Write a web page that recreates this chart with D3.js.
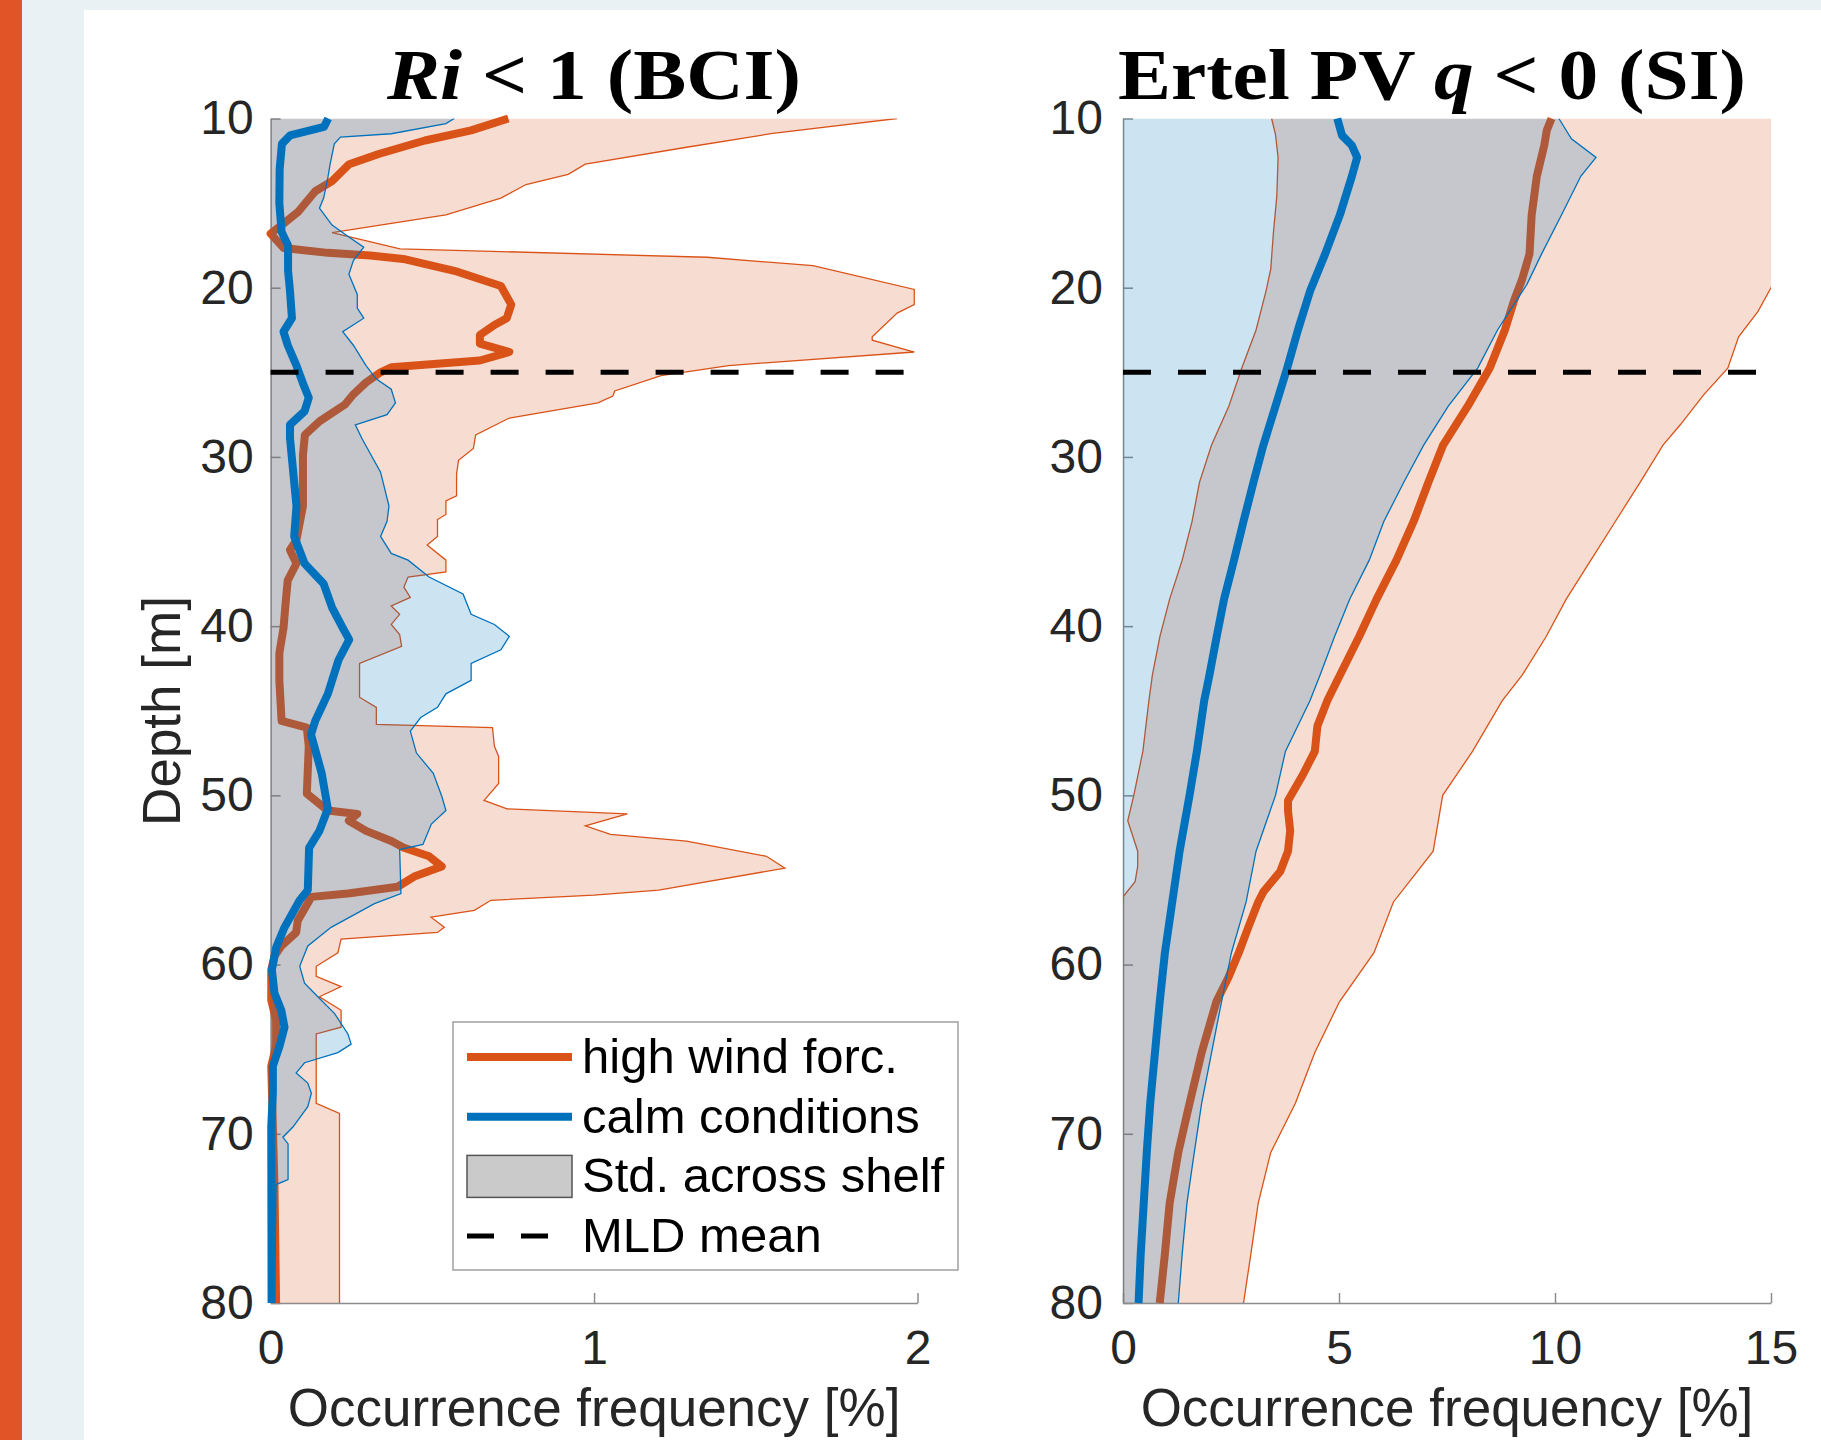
<!DOCTYPE html>
<html lang="en">
<head>
<meta charset="UTF-8">
<title>Ri &lt; 1 (BCI) and Ertel PV q &lt; 0 (SI)</title>
<script src="https://d3js.org/d3.v7.min.js"></script>
<style>
  html, body { margin: 0; padding: 0; background: #e9f1f4; }
  svg { display: block; }
</style>
</head>
<body>
<svg id="chart" width="1821" height="1440"></svg>
<script>
// ---- data (depth in m, frequency in %) ----
const depthTicks = [10, 20, 30, 40, 50, 60, 70, 80];
const riFreqTicks = [0, 1, 2];
const siFreqTicks = [0, 5, 10, 15];
const mldDepth = 25;

// Ri < 1 (BCI), calm conditions mean
const riCalmDepth = [10, 10.5, 11, 11.5, 13, 15, 16.7, 17.5, 19, 20.2, 21.8, 22.6, 23.4, 24.6, 25.6, 26.5, 27.3, 28.1, 28.9, 32.9, 34.7, 36.3, 37.5, 38.9, 40.1, 40.8, 42, 44, 45.6, 46.4, 48.7, 50.8, 52.1, 53.1, 55.6, 56.2, 57.8, 59, 60.3, 61.7, 62.7, 63.7, 64.8, 66, 67.6, 69.6, 80];
const riCalmMean = [0.178, 0.165, 0.06, 0.035, 0.028, 0.027, 0.034, 0.054, 0.054, 0.06, 0.066, 0.04, 0.053, 0.08, 0.099, 0.118, 0.105, 0.06, 0.06, 0.08, 0.073, 0.105, 0.164, 0.19, 0.223, 0.243, 0.21, 0.177, 0.138, 0.125, 0.158, 0.177, 0.151, 0.119, 0.115, 0.09, 0.043, 0.017, 0.004, 0.012, 0.033, 0.043, 0.028, 0.007, 0.007, 0.002, 0.003];

// Ri < 1 (BCI), calm conditions mean + std
const riCalmUpDepth = [10, 10.3, 10.9, 11.1, 11.5, 12.7, 13.5, 14.7, 15.3, 16.3, 17.0, 17.6, 18.4, 19.2, 20.4, 21.2, 21.8, 22.6, 23.4, 24.6, 25.4, 26.0, 26.8, 27.5, 28.1, 28.9, 30.9, 32.9, 33.8, 34.7, 35.7, 36.1, 37.1, 38.1, 39.3, 39.9, 40.6, 41.4, 42.2, 43.2, 44.0, 44.8, 45.4, 46.2, 47.5, 48.7, 50.1, 50.9, 51.7, 52.9, 53.2, 55.8, 56.4, 57.8, 58.9, 60.1, 61.1, 61.9, 62.9, 64.1, 64.7, 65.2, 65.8, 66.4, 67.0, 67.6, 68.4, 69.6, 70.2, 70.6, 72.7, 73.0, 80];
const riCalmUp = [0.568, 0.542, 0.373, 0.216, 0.197, 0.184, 0.177, 0.164, 0.151, 0.19, 0.242, 0.288, 0.256, 0.242, 0.268, 0.268, 0.288, 0.223, 0.256, 0.295, 0.327, 0.373, 0.386, 0.36, 0.262, 0.282, 0.34, 0.366, 0.36, 0.34, 0.373, 0.425, 0.49, 0.595, 0.62, 0.692, 0.738, 0.712, 0.62, 0.62, 0.542, 0.516, 0.464, 0.432, 0.451, 0.503, 0.53, 0.542, 0.497, 0.471, 0.399, 0.403, 0.321, 0.187, 0.115, 0.09, 0.105, 0.146, 0.198, 0.239, 0.249, 0.208, 0.105, 0.079, 0.115, 0.126, 0.115, 0.069, 0.038, 0.054, 0.054, 0.017, 0.012];

// Ri < 1 (BCI), high wind forcing mean
const riHighDepth = [10, 10.7, 11.3, 12.1, 12.7, 13.7, 14.3, 15.5, 16.3, 16.8, 17.65, 17.94, 18.1, 18.3, 19.0, 19.9, 21.0, 21.8, 22.2, 22.8, 23.3, 23.8, 24.3, 24.7, 25.0, 25.6, 26.3, 26.9, 27.9, 28.7, 29.9, 32.9, 34.9, 35.5, 36.3, 37.3, 38.5, 40.1, 41.6, 43.2, 45.6, 46.0, 47.1, 49.9, 50.9, 51.1, 51.5, 52.1, 52.7, 53.1, 53.6, 54.2, 54.8, 55.4, 55.8, 56.0, 57.4, 58.1, 58.9, 59.5, 60.3, 62.1, 63.3, 64.8, 66.0, 73.1, 80];
const riHighMean = [0.735, 0.62, 0.477, 0.334, 0.243, 0.19, 0.138, 0.086, 0.034, 0.0, 0.04, 0.177, 0.308, 0.41, 0.568, 0.712, 0.744, 0.73, 0.692, 0.647, 0.647, 0.738, 0.647, 0.373, 0.34, 0.295, 0.256, 0.23, 0.151, 0.106, 0.1, 0.1, 0.08, 0.06, 0.08, 0.053, 0.047, 0.04, 0.027, 0.027, 0.034, 0.112, 0.118, 0.112, 0.177, 0.268, 0.242, 0.295, 0.373, 0.412, 0.49, 0.529, 0.444, 0.393, 0.239, 0.126, 0.084, 0.079, 0.033, 0.012, 0.002, 0.002, 0.017, 0.017, 0.002, 0.012, 0.017];

// Ri < 1 (BCI), high wind forcing mean + std
const riHighUpDepth = [10, 10.9, 11.7, 12.7, 13.3, 13.9, 14.7, 15.7, 16.75, 17.7, 18.2, 18.7, 20.1, 21.0, 21.5, 22.9, 23.1, 23.8, 24.6, 25.2, 26.1, 26.4, 26.8, 27.7, 28.7, 29.5, 30.2, 31.0, 32.3, 32.6, 33.4, 33.7, 34.7, 35.2, 36.1, 36.8, 37.1, 37.7, 38.3, 38.8, 39.3, 39.9, 40.5, 41.2, 42.2, 44.2, 44.8, 45.8, 46.0, 47.1, 47.7, 49.3, 50.3, 50.8, 51.1, 51.8, 52.3, 52.7, 53.6, 54.3, 55.6, 55.9, 56.2, 56.8, 57.2, 57.8, 58.1, 58.5, 59.3, 60.1, 60.7, 61.3, 61.9, 62.7, 63.7, 64.1, 68.2, 68.8, 80];
const riHighUp = [1.937, 1.546, 1.286, 0.973, 0.92, 0.79, 0.712, 0.542, 0.19, 0.4, 1.35, 1.677, 1.99, 1.99, 1.937, 1.86, 1.86, 1.99, 1.416, 1.207, 1.064, 1.058, 1.012, 0.738, 0.634, 0.627, 0.581, 0.575, 0.575, 0.542, 0.542, 0.516, 0.516, 0.484, 0.542, 0.542, 0.425, 0.412, 0.432, 0.373, 0.399, 0.373, 0.399, 0.405, 0.275, 0.275, 0.327, 0.327, 0.686, 0.692, 0.705, 0.705, 0.66, 0.731, 1.103, 0.973, 1.051, 1.286, 1.533, 1.59, 1.2, 1.0, 0.681, 0.63, 0.496, 0.537, 0.516, 0.218, 0.208, 0.141, 0.141, 0.218, 0.151, 0.218, 0.218, 0.141, 0.141, 0.213, 0.213];

// Ertel PV q < 0 (SI), calm conditions mean
const siCalmDepth = [10, 11, 11.6, 12.3, 13.4, 15.7, 18.0, 20.2, 22.5, 24.75, 27.0, 29.3, 31.5, 33.8, 36.1, 38.4, 40.6, 42.9, 44.4, 47.4, 50, 53.3, 56.3, 59.3, 62.2, 65.2, 68.2, 71.1, 74.1, 77.1, 80];
const siCalmMean = [4.96, 5.07, 5.3, 5.42, 5.3, 5.02, 4.68, 4.33, 4.05, 3.8, 3.53, 3.25, 3.02, 2.79, 2.57, 2.34, 2.17, 2.0, 1.88, 1.71, 1.54, 1.31, 1.14, 0.97, 0.85, 0.74, 0.63, 0.55, 0.48, 0.41, 0.36];

// Ertel PV q < 0 (SI), calm conditions mean + std
const siCalmUpDepth = [10, 11.2, 12.3, 13.4, 15.7, 18.0, 19.8, 22.5, 24.75, 27.0, 29.3, 31.5, 33.8, 36.1, 38.4, 40.6, 42.9, 44.4, 47.4, 50, 53.3, 56.3, 59.3, 62.2, 65.2, 68.2, 71.1, 74.1, 77.1, 80];
const siCalmUp = [10.09, 10.38, 10.95, 10.6, 10.15, 9.69, 9.35, 8.67, 8.21, 7.53, 6.96, 6.5, 6.04, 5.7, 5.25, 4.9, 4.56, 4.33, 3.76, 3.53, 3.08, 2.85, 2.51, 2.28, 2.05, 1.82, 1.65, 1.48, 1.37, 1.28];

// Ertel PV q < 0 (SI), high wind forcing mean
const siHighDepth = [10, 10.7, 11.6, 13.4, 15.7, 18.0, 19.5, 20.7, 22.5, 24.75, 27.0, 29.3, 31.5, 33.8, 36.1, 38.4, 40.6, 42.9, 44.4, 45.9, 47.4, 48.8, 50.3, 50.9, 52.1, 53.3, 54.5, 55.7, 56.3, 57.8, 59.3, 60.7, 62.2, 65.2, 68.2, 71.1, 74.1, 77.1, 80];
const siHighMean = [9.92, 9.81, 9.75, 9.58, 9.46, 9.41, 9.24, 9.06, 8.84, 8.49, 7.98, 7.41, 7.07, 6.73, 6.33, 5.87, 5.47, 5.02, 4.73, 4.5, 4.44, 4.16, 3.82, 3.82, 3.87, 3.82, 3.64, 3.25, 3.13, 2.9, 2.68, 2.45, 2.16, 1.82, 1.54, 1.28, 1.08, 0.97, 0.85];

// Ertel PV q < 0 (SI), high wind forcing mean - std / mean + std
const siHighLoDepth = [10, 10.95, 12.3, 14.6, 16.8, 18.9, 20.2, 22.5, 24.75, 27.0, 29.3, 31.5, 33.8, 36.1, 38.4, 40.6, 42.9, 44.4, 47.4, 50, 51.5, 53.3, 54.2, 55.1, 56, 80];
const siHighLo = [3.44, 3.53, 3.59, 3.56, 3.48, 3.42, 3.31, 3.08, 2.75, 2.45, 2.05, 1.77, 1.6, 1.37, 1.08, 0.855, 0.68, 0.6, 0.46, 0.25, 0.11, 0.34, 0.34, 0.28, 0, -0.5];
const siHighUpDepth = [10, 20, 21.4, 22.9, 24.75, 26.3, 28.1, 29.3, 31.5, 33.8, 36.1, 38.4, 40.6, 42.9, 44.4, 47.4, 50, 53.3, 54.8, 56.3, 59.3, 62.2, 65.2, 68.2, 71.1, 74.1, 77.1, 80];
const siHighUp = [16.5, 15.0, 14.7, 14.25, 14.0, 13.45, 12.9, 12.5, 11.97, 11.4, 10.83, 10.26, 9.8, 9.24, 8.78, 8.09, 7.4, 7.18, 6.72, 6.26, 5.81, 5.01, 4.44, 3.99, 3.42, 3.13, 2.96, 2.79];

// ---- drawing ----
const W = 1821, H = 1440;
const orange = "#d95319", blue = "#0072bd";
const axisColor = "#8c8c8c", textColor = "#262626";
const sans = "'Liberation Sans', Arial, Helvetica, sans-serif";
const serif = "'Liberation Serif', 'Times New Roman', serif";
const plotTop = 118.5, plotBottom = 1303;

const svg = d3.select("#chart");

// page background
svg.append("rect").attr("width", W).attr("height", H).attr("fill", "#e9f1f4");
svg.append("rect").attr("width", 22).attr("height", H).attr("fill", "#e05427");
svg.append("rect").attr("x", 84).attr("y", 10).attr("width", W - 84).attr("height", H - 10).attr("fill", "#fff");

const defs = svg.append("defs");

function drawPanel(cfg) {
    const x = d3.scaleLinear().domain(cfg.xDomain).range(cfg.xRange);
    const y = d3.scaleLinear().domain([10, 80]).range([plotTop, plotBottom]);
    const g = svg.append("g");

    const clipId = "clip-" + cfg.id;
    defs.append("clipPath").attr("id", clipId).append("rect")
        .attr("x", cfg.xRange[0]).attr("y", plotTop)
        .attr("width", cfg.xRange[1] - cfg.xRange[0]).attr("height", plotBottom - plotTop);

    // axes (drawn under the data, like matlab)
    const yAxis = g.append("g")
        .attr("transform", "translate(" + cfg.xRange[0] + ",0)")
        .call(d3.axisLeft(y).tickValues(depthTicks).tickSizeInner(-10).tickSizeOuter(0).tickPadding(cfg.yPad));
    const xAxis = g.append("g")
        .attr("transform", "translate(0," + plotBottom + ")")
        .call(d3.axisBottom(x).tickValues(cfg.ticks).tickFormat(d3.format("d"))
            .tickSizeInner(-10).tickSizeOuter(0).tickPadding(27));
    [yAxis, xAxis].forEach(a => {
        a.attr("font-family", sans).attr("font-size", 48);
        a.select(".domain").attr("stroke", axisColor).attr("stroke-width", 1.5);
        a.selectAll(".tick line").attr("stroke", axisColor).attr("stroke-width", 1.5);
        a.selectAll(".tick text").attr("fill", textColor);
    });

    const pts = (ds, vs) => ds.map((d, i) => [x(vs[i]), y(d)]);
    const line = d3.line();

    function band(upD, upV, loD, loV, color) {
        const upper = pts(upD, upV);
        const lower = loD ? pts(loD, loV)
            : [[x(0), y(upD[0])], [x(0), y(upD[upD.length - 1])]];
        g.append("path")
            .attr("d", line(upper.concat(lower.slice().reverse())) + "Z")
            .attr("fill", color).attr("fill-opacity", 0.2)
            .attr("clip-path", "url(#" + clipId + ")");
        g.append("path").attr("d", line(upper))
            .attr("fill", "none").attr("stroke", color).attr("stroke-width", 1.3)
            .attr("clip-path", "url(#" + clipId + ")");
        if (loD) {
            g.append("path").attr("d", line(lower))
                .attr("fill", "none").attr("stroke", color).attr("stroke-width", 1.3)
                .attr("clip-path", "url(#" + clipId + ")");
        }
    }

    function meanLine(ds, vs, color) {
        g.append("path").attr("d", line(pts(ds, vs)))
            .attr("fill", "none").attr("stroke", color)
            .attr("stroke-width", 8).attr("stroke-linejoin", "round");
    }

    band(cfg.highUp[0], cfg.highUp[1], cfg.highLo && cfg.highLo[0], cfg.highLo && cfg.highLo[1], orange);
    meanLine(cfg.high[0], cfg.high[1], orange);
    band(cfg.calmUp[0], cfg.calmUp[1], null, null, blue);
    meanLine(cfg.calm[0], cfg.calm[1], blue);

    // mixed layer depth
    g.append("path")
        .attr("d", line([[x(cfg.xDomain[0]), y(mldDepth)], [x(cfg.xDomain[1]), y(mldDepth)]]))
        .attr("stroke", "#000").attr("stroke-width", 5).attr("stroke-dasharray", "28,27");

    // x label
    g.append("text")
        .attr("x", (cfg.xRange[0] + cfg.xRange[1]) / 2).attr("y", 1426)
        .attr("text-anchor", "middle").attr("font-family", sans).attr("font-size", 53)
        .attr("fill", textColor).text("Occurrence frequency [%]");

    // title
    const t = svg.append("text")
        .attr("x", cfg.titleX).attr("y", 99)
        .attr("font-family", serif).attr("font-size", 72).attr("font-weight", "bold")
        .attr("fill", "#000")
        .attr("textLength", cfg.titleW).attr("lengthAdjust", "spacingAndGlyphs");
    cfg.title.forEach(p => {
        t.append("tspan").attr("font-style", p.italic ? "italic" : "normal").text(p.t);
    });
}

drawPanel({
    id: "ri", xDomain: [0, 2], xRange: [270.6, 917.5], ticks: riFreqTicks, yPad: 17,
    high: [riHighDepth, riHighMean], highUp: [riHighUpDepth, riHighUp], highLo: null,
    calm: [riCalmDepth, riCalmMean], calmUp: [riCalmUpDepth, riCalmUp],
    titleX: 387, titleW: 414,
    title: [{ t: "Ri", italic: true }, { t: " < 1 (BCI)" }]
});

drawPanel({
    id: "si", xDomain: [0, 15], xRange: [1123, 1771], ticks: siFreqTicks, yPad: 20,
    high: [siHighDepth, siHighMean], highUp: [siHighUpDepth, siHighUp], highLo: [siHighLoDepth, siHighLo],
    calm: [siCalmDepth, siCalmMean], calmUp: [siCalmUpDepth, siCalmUp],
    titleX: 1118, titleW: 628,
    title: [{ t: "Ertel PV " }, { t: "q", italic: true }, { t: " < 0 (SI)" }]
});

// y label (left panel only)
svg.append("text")
    .attr("transform", "translate(180,711) rotate(-90)")
    .attr("text-anchor", "middle").attr("font-family", sans).attr("font-size", 53)
    .attr("fill", textColor).text("Depth [m]");

// legend
const legendItems = [
    { label: "high wind forc.", kind: "line", color: orange },
    { label: "calm conditions", kind: "line", color: blue },
    { label: "Std. across shelf", kind: "patch" },
    { label: "MLD mean", kind: "dash" }
];
const legend = svg.append("g");
legend.append("rect")
    .attr("x", 453).attr("y", 1022).attr("width", 505).attr("height", 248)
    .attr("fill", "#fff").attr("stroke", "#a0a0a0").attr("stroke-width", 1.5);
legendItems.forEach((d, i) => {
    const cy = 1057 + i * 59.7;
    if (d.kind === "line") {
        legend.append("line").attr("x1", 467).attr("x2", 572).attr("y1", cy).attr("y2", cy)
            .attr("stroke", d.color).attr("stroke-width", 8);
    } else if (d.kind === "patch") {
        legend.append("rect").attr("x", 467).attr("y", cy - 21).attr("width", 105).attr("height", 42)
            .attr("fill", "#cacaca").attr("stroke", "#555").attr("stroke-width", 1.5);
    } else {
        legend.append("line").attr("x1", 467).attr("x2", 549).attr("y1", cy).attr("y2", cy)
            .attr("stroke", "#000").attr("stroke-width", 5).attr("stroke-dasharray", "27,27");
    }
    legend.append("text")
        .attr("x", 582).attr("y", cy + 16)
        .attr("font-family", sans).attr("font-size", 49).attr("fill", "#000")
        .text(d.label);
});
</script>
</body>
</html>
